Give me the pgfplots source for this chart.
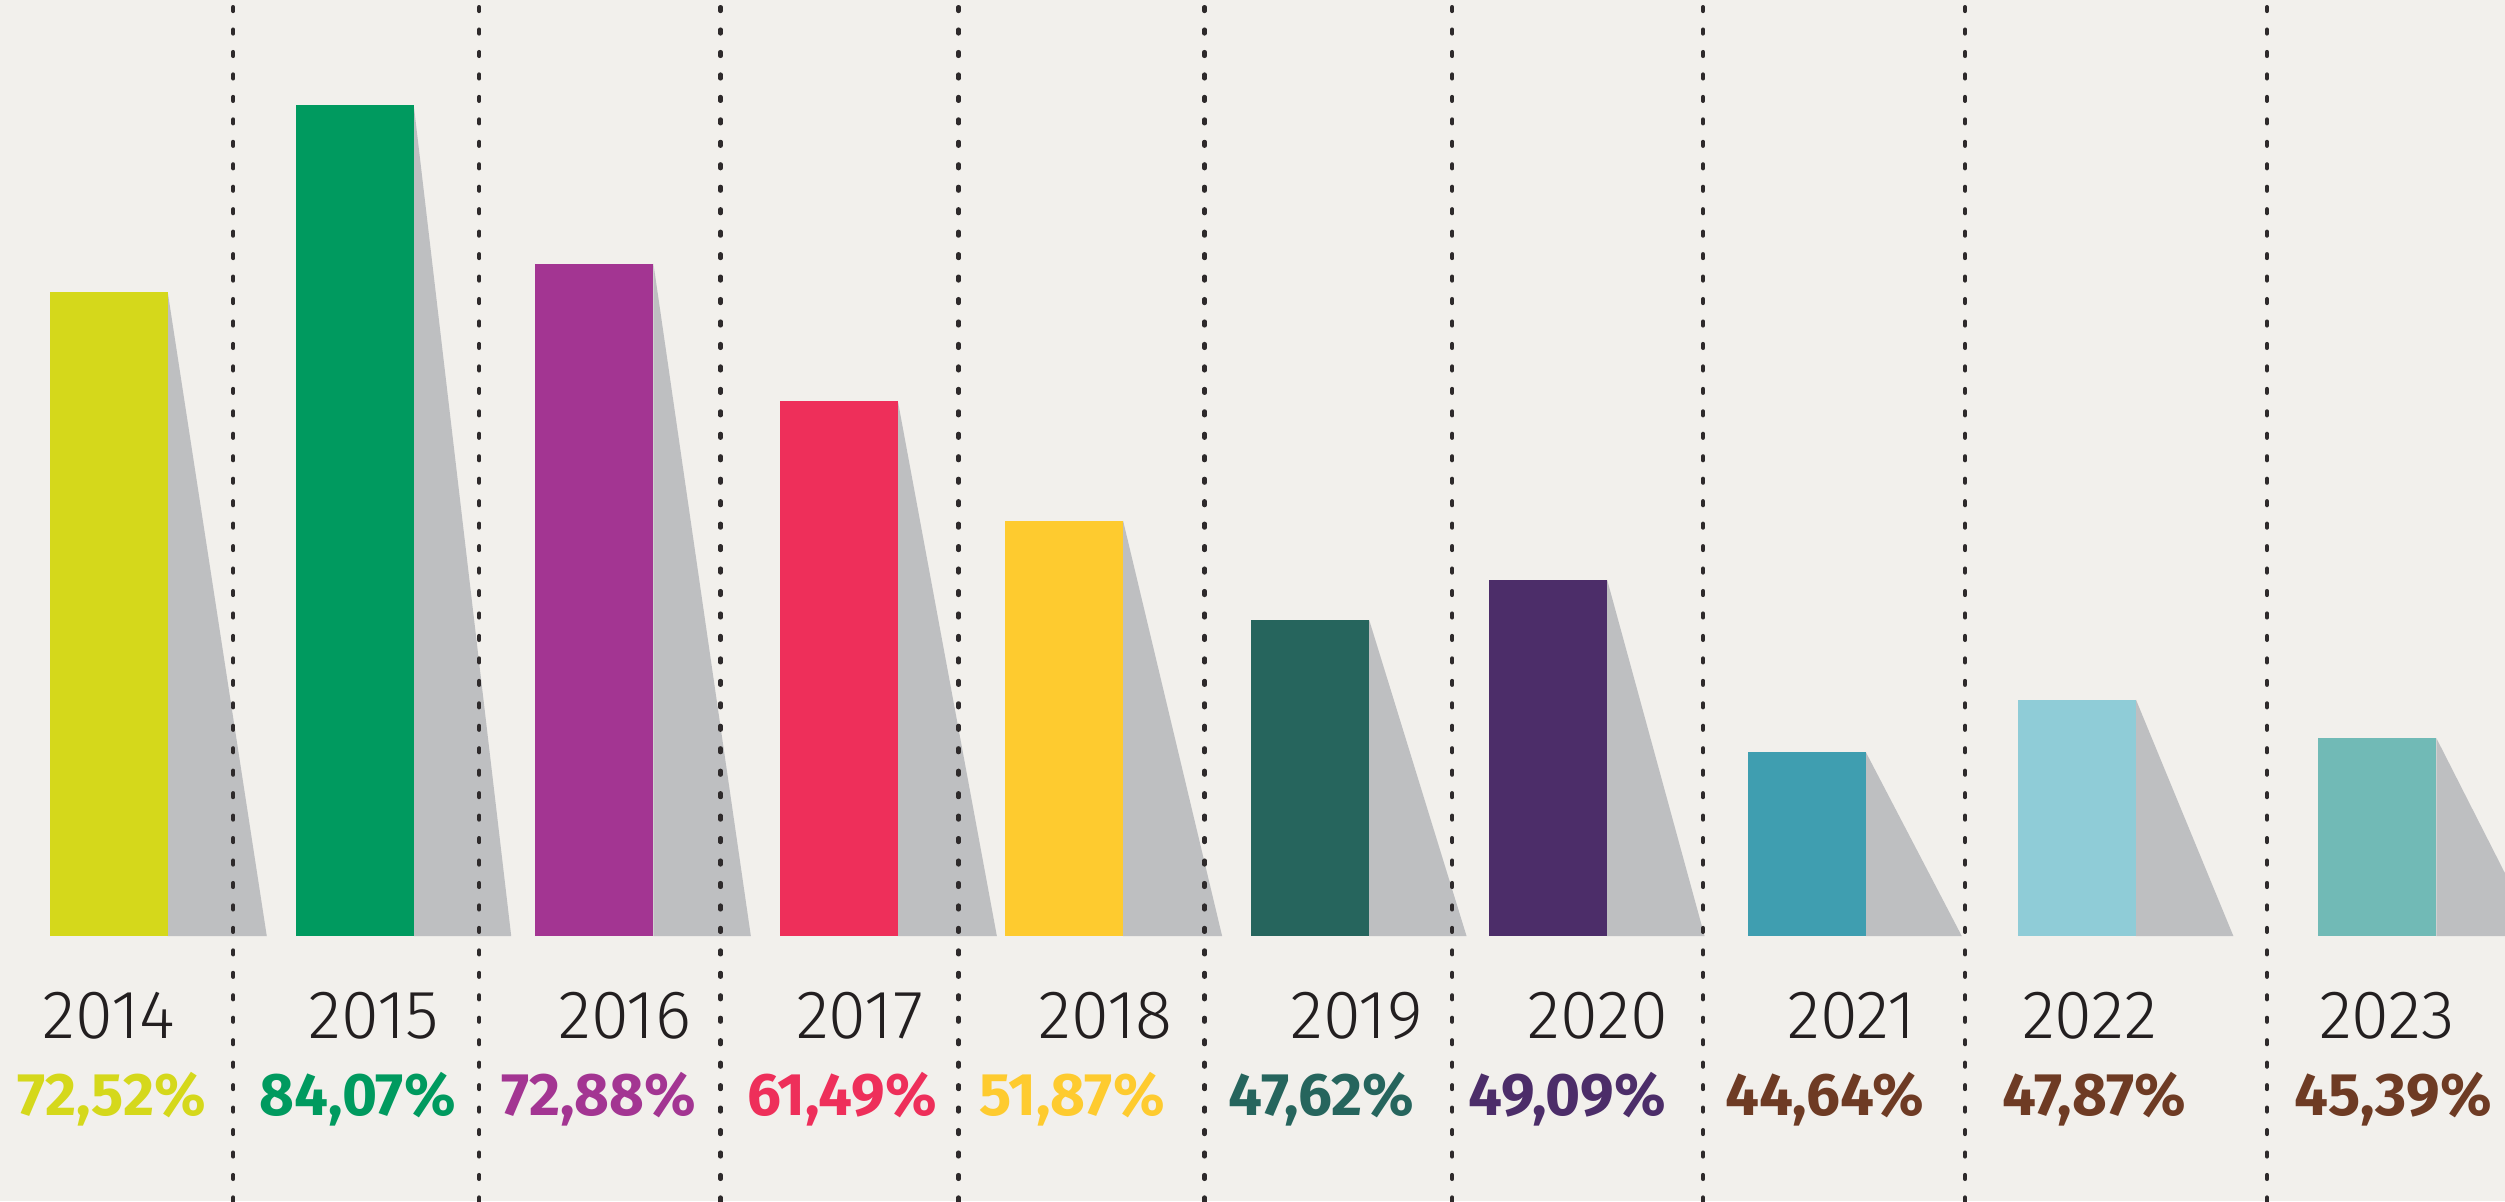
\documentclass[border=0pt]{standalone}
\usepackage{pgfplots}
\pgfplotsset{compat=1.18}
\usepackage{fontspec}
\setmainfont{Fira Sans}
\newfontfamily\yearfont{Fira Sans Light}

\definecolor{bg}{HTML}{F2F0EC}
\definecolor{shadow}{HTML}{BEBFC1}
\definecolor{ink}{HTML}{231F20}
\definecolor{c14}{HTML}{D5D81B}
\definecolor{c15}{HTML}{009A5F}
\definecolor{c16}{HTML}{A33592}
\definecolor{c17}{HTML}{EE2F5A}
\definecolor{c18}{HTML}{FECB2F}
\definecolor{c19}{HTML}{26655D}
\definecolor{c20}{HTML}{4C2D69}
\definecolor{c21}{HTML}{3F9EB0}
\definecolor{c22}{HTML}{8FCCD7}
\definecolor{c23}{HTML}{71BAB6}
\definecolor{brown}{HTML}{6E3B24}

\newcommand{\yr}[2]{\node[anchor=base,text=ink,inner sep=0pt,font=\yearfont\fontsize{12.2}{14}\selectfont] at (axis cs:#1,-64) {#2};}
\newcommand{\pct}[3]{\node[anchor=base,text=#2,inner sep=0pt,font=\fontsize{10.7}{12}\selectfont\bfseries] at (axis cs:#1,-112) {#3};}

\begin{document}
\begin{tikzpicture}
\begin{axis}[
    width=156.8mm, height=75.2mm, scale only axis,
    xmin=0, xmax=1568, ymin=-166, ymax=586,
    axis background/.style={fill=bg},
    axis line style={draw=none},
    xtick={146,300,451,600,754,909,1066,1230,1419},
    xticklabels={},
    ytick=\empty,
    major tick length=0pt,
    xmajorgrids,
    grid style={color=ink!95, line width=0.75pt, line cap=round, dash pattern=on 0.7pt off 3.3pt},
    axis on top,
    clip=true,
]
% shadows: bar top-right corner down to the baseline
\addplot[fill=shadow, draw=none] coordinates {(105,403) (167,0) (105,0)} -- cycle;
\addplot[fill=shadow, draw=none] coordinates {(259,520) (320,0) (259,0)} -- cycle;
\addplot[fill=shadow, draw=none] coordinates {(409,421) (470,0) (409,0)} -- cycle;
\addplot[fill=shadow, draw=none] coordinates {(562,335) (624,0) (562,0)} -- cycle;
\addplot[fill=shadow, draw=none] coordinates {(703,260) (765,0) (703,0)} -- cycle;
\addplot[fill=shadow, draw=none] coordinates {(857,198) (918,0) (857,0)} -- cycle;
\addplot[fill=shadow, draw=none] coordinates {(1006,223) (1067,0) (1006,0)} -- cycle;
\addplot[fill=shadow, draw=none] coordinates {(1168,115) (1228,0) (1168,0)} -- cycle;
\addplot[fill=shadow, draw=none] coordinates {(1337,148) (1398,0) (1337,0)} -- cycle;
\addplot[fill=shadow, draw=none] coordinates {(1525,124) (1588,0) (1525,0)} -- cycle;

% bars
\addplot[ybar, bar width=74, bar shift=0pt, fill=c14, draw=none] coordinates {(68,403)};
\addplot[ybar, bar width=74, bar shift=0pt, fill=c15, draw=none] coordinates {(222,520)};
\addplot[ybar, bar width=74, bar shift=0pt, fill=c16, draw=none] coordinates {(372,421)};
\addplot[ybar, bar width=74, bar shift=0pt, fill=c17, draw=none] coordinates {(525,335)};
\addplot[ybar, bar width=74, bar shift=0pt, fill=c18, draw=none] coordinates {(666,260)};
\addplot[ybar, bar width=74, bar shift=0pt, fill=c19, draw=none] coordinates {(820,198)};
\addplot[ybar, bar width=74, bar shift=0pt, fill=c20, draw=none] coordinates {(969,223)};
\addplot[ybar, bar width=74, bar shift=0pt, fill=c21, draw=none] coordinates {(1131,115)};
\addplot[ybar, bar width=74, bar shift=0pt, fill=c22, draw=none] coordinates {(1300,148)};
\addplot[ybar, bar width=74, bar shift=0pt, fill=c23, draw=none] coordinates {(1488,124)};

% labels
\yr{68}{2014}   \pct{70}{c14}{72,52\%}
\yr{234}{2015}  \pct{224}{c15}{84,07\%}
\yr{391}{2016}  \pct{375}{c16}{72,88\%}
\yr{538}{2017}  \pct{527}{c17}{61,49\%}
\yr{692}{2018}  \pct{671}{c18}{51,87\%}
\yr{849}{2019}  \pct{827}{c19}{47,62\%}
\yr{1000}{2020} \pct{981}{c20}{49,09\%}
\yr{1159}{2021} \pct{1142}{brown}{44,64\%}
\yr{1308}{2022} \pct{1311}{brown}{47,87\%}
\yr{1494}{2023} \pct{1498}{brown}{45,39\%}
\end{axis}
\pgfresetboundingbox
\path (current axis.south west) rectangle (current axis.north east);
\end{tikzpicture}
\end{document}
